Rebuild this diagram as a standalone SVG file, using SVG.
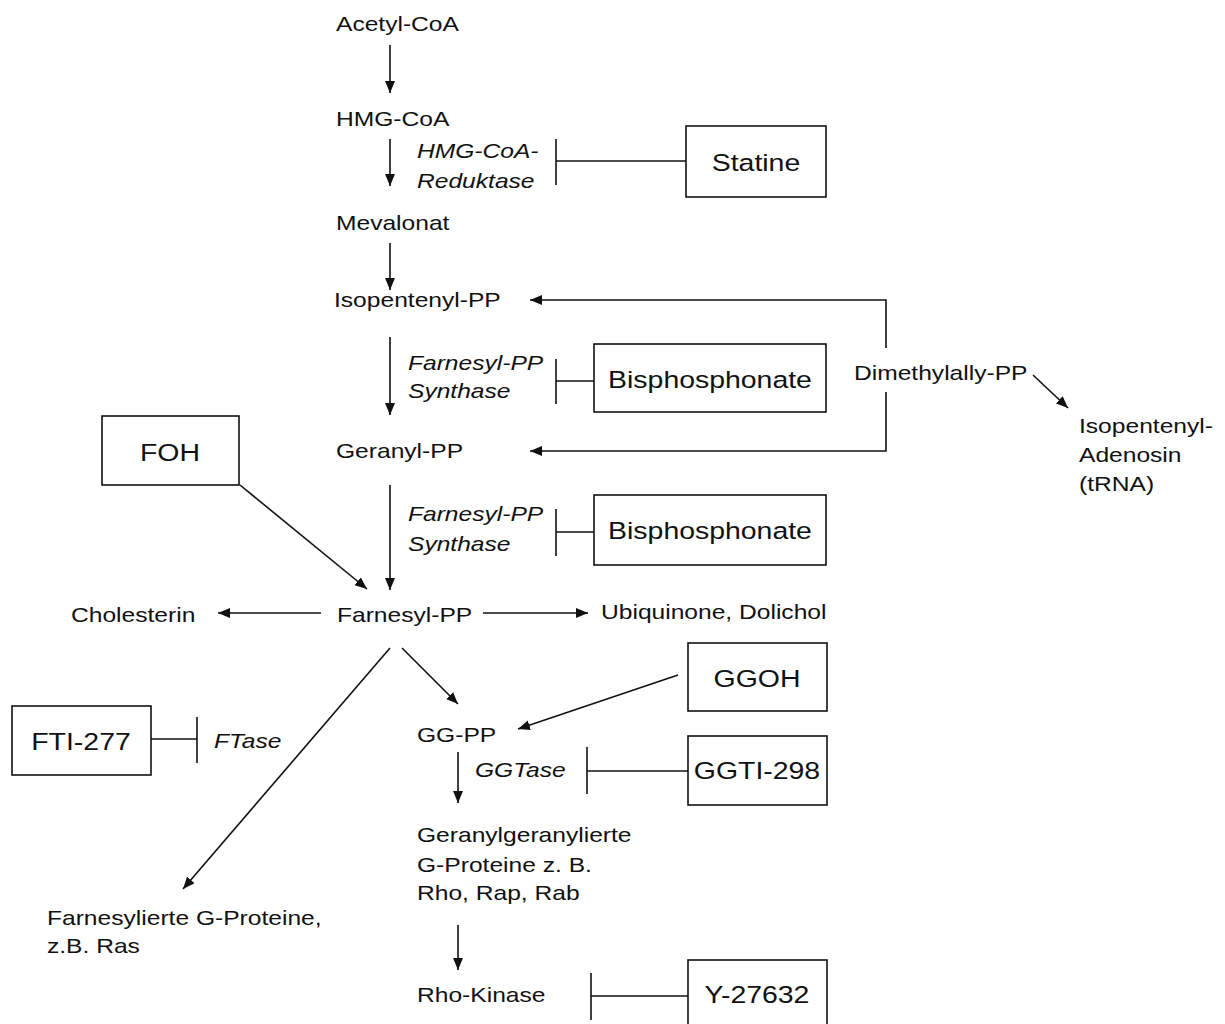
<svg xmlns="http://www.w3.org/2000/svg" width="1225" height="1024" viewBox="0 0 1225 1024">
<defs>
<marker id="ah" markerUnits="userSpaceOnUse" markerWidth="13" markerHeight="11" refX="12" refY="5" orient="auto">
<path d="M0,0 L12,5 L0,10 z" fill="#111"/>
</marker>
<style>
text{font-family:"Liberation Sans",Arial,sans-serif;fill:#111}
.t{font-size:20.5px}
.i{font-size:20.5px;font-style:italic}
.b{font-size:23.7px}
.box{fill:none;stroke:#111;stroke-width:1.6}
.c line,.c polyline{stroke:#111;stroke-width:1.6;fill:none}
.a{marker-end:url(#ah)}
</style>
</defs>
<rect width="1225" height="1024" fill="#fff"/>
<g id="acetylcoa"><text class="t" transform="translate(336 31) scale(1.2 1)">Acetyl-CoA</text></g>
<g id="hmgcoa"><text class="t" transform="translate(336 126) scale(1.2 1)">HMG-CoA</text></g>
<g id="hmgcoa-reduktase"><text class="i" transform="translate(417 158) scale(1.2 1)">HMG-CoA-</text><text class="i" transform="translate(417 188) scale(1.2 1)">Reduktase</text></g>
<g id="statine"><rect class="box" x="686" y="126" width="140" height="71"/><text class="b" text-anchor="middle" transform="translate(756 171) scale(1.2 1)">Statine</text></g>
<g id="mevalonat"><text class="t" transform="translate(336 230) scale(1.2 1)">Mevalonat</text></g>
<g id="isopentenylpp"><text class="t" transform="translate(334 307) scale(1.2 1)">Isopentenyl-PP</text></g>
<g id="fpps1"><text class="i" transform="translate(408 370) scale(1.2 1)">Farnesyl-PP</text><text class="i" transform="translate(408 398) scale(1.2 1)">Synthase</text></g>
<g id="bisphosphonate1"><rect class="box" x="594" y="344" width="232" height="68"/><text class="b" text-anchor="middle" transform="translate(710 388) scale(1.2 1)">Bisphosphonate</text></g>
<g id="dimethylallypp"><text class="t" transform="translate(854 380) scale(1.2 1)">Dimethylally-PP</text></g>
<g id="isopentenyladenosin"><text class="t" transform="translate(1079 433) scale(1.2 1)">Isopentenyl-</text><text class="t" transform="translate(1079 462) scale(1.2 1)">Adenosin</text><text class="t" transform="translate(1079 491) scale(1.2 1)">(tRNA)</text></g>
<g id="geranylpp"><text class="t" transform="translate(336 458) scale(1.2 1)">Geranyl-PP</text></g>
<g id="foh"><rect class="box" x="102" y="416" width="137" height="69"/><text class="b" text-anchor="middle" transform="translate(170 461) scale(1.2 1)">FOH</text></g>
<g id="fpps2"><text class="i" transform="translate(408 521) scale(1.2 1)">Farnesyl-PP</text><text class="i" transform="translate(408 551) scale(1.2 1)">Synthase</text></g>
<g id="bisphosphonate2"><rect class="box" x="594" y="495" width="232" height="70"/><text class="b" text-anchor="middle" transform="translate(710 539) scale(1.2 1)">Bisphosphonate</text></g>
<g id="farnesylpp"><text class="t" transform="translate(337 622) scale(1.2 1)">Farnesyl-PP</text></g>
<g id="cholesterin"><text class="t" transform="translate(71 622) scale(1.2 1)">Cholesterin</text></g>
<g id="ubiquinone"><text class="t" transform="translate(601 619) scale(1.2 1)">Ubiquinone, Dolichol</text></g>
<g id="ggoh"><rect class="box" x="688" y="643" width="139" height="68"/><text class="b" text-anchor="middle" transform="translate(757 687) scale(1.2 1)">GGOH</text></g>
<g id="fti277"><rect class="box" x="12" y="706" width="139" height="69"/><text class="b" text-anchor="middle" transform="translate(81 750) scale(1.2 1)">FTI-277</text></g>
<g id="ftase"><text class="i" transform="translate(214 748) scale(1.2 1)">FTase</text></g>
<g id="ggpp"><text class="t" transform="translate(417 742) scale(1.2 1)">GG-PP</text></g>
<g id="ggtase"><text class="i" transform="translate(475 777) scale(1.2 1)">GGTase</text></g>
<g id="ggti298"><rect class="box" x="688" y="736" width="139" height="69"/><text class="b" text-anchor="middle" transform="translate(757 779) scale(1.2 1)">GGTI-298</text></g>
<g id="geranylgeranylierte"><text class="t" transform="translate(417 842) scale(1.2 1)">Geranylgeranylierte</text><text class="t" transform="translate(417 872) scale(1.2 1)">G-Proteine z. B.</text><text class="t" transform="translate(417 900) scale(1.2 1)">Rho, Rap, Rab</text></g>
<g id="farnesylierte"><text class="t" transform="translate(47 925) scale(1.2 1)">Farnesylierte G-Proteine,</text><text class="t" transform="translate(47 953) scale(1.2 1)">z.B. Ras</text></g>
<g id="rhokinase"><text class="t" transform="translate(417 1002) scale(1.2 1)">Rho-Kinase</text></g>
<g id="y27632"><rect class="box" x="688" y="960" width="139" height="70"/><text class="b" text-anchor="middle" transform="translate(757 1003) scale(1.2 1)">Y-27632</text></g>
<g id="connectors" class="c">
<line class="a" x1="390" y1="45" x2="390" y2="93"/>
<line class="a" x1="390" y1="139" x2="390" y2="186"/>
<line class="a" x1="390" y1="243" x2="390" y2="290"/>
<line class="a" x1="390" y1="337" x2="390" y2="415"/>
<line class="a" x1="390" y1="485" x2="390" y2="590"/>
<line x1="556" y1="139" x2="556" y2="185"/>
<line x1="556" y1="161" x2="686" y2="161"/>
<line x1="556" y1="359" x2="556" y2="404"/>
<line x1="556" y1="381" x2="594" y2="381"/>
<line x1="556" y1="509" x2="556" y2="556"/>
<line x1="556" y1="532" x2="594" y2="532"/>
<polyline class="a" points="886,348 886,300 530,300"/>
<polyline class="a" points="886,392 886,451 530,451"/>
<line class="a" x1="1033" y1="375" x2="1068" y2="408"/>
<line class="a" x1="240" y1="485" x2="367" y2="589"/>
<line class="a" x1="321" y1="613" x2="218" y2="613"/>
<line class="a" x1="483" y1="613" x2="588" y2="613"/>
<line class="a" x1="390" y1="648" x2="183" y2="889"/>
<line class="a" x1="402" y1="648" x2="458" y2="704"/>
<line class="a" x1="678" y1="675" x2="518" y2="729"/>
<line x1="151" y1="739" x2="197" y2="739"/>
<line x1="197" y1="717" x2="197" y2="763"/>
<line class="a" x1="458" y1="752" x2="458" y2="803"/>
<line x1="587" y1="747" x2="587" y2="794"/>
<line x1="587" y1="771" x2="688" y2="771"/>
<line class="a" x1="458" y1="925" x2="458" y2="970"/>
<line x1="591" y1="973" x2="591" y2="1020"/>
<line x1="591" y1="996" x2="688" y2="996"/>
</g>
</svg>
